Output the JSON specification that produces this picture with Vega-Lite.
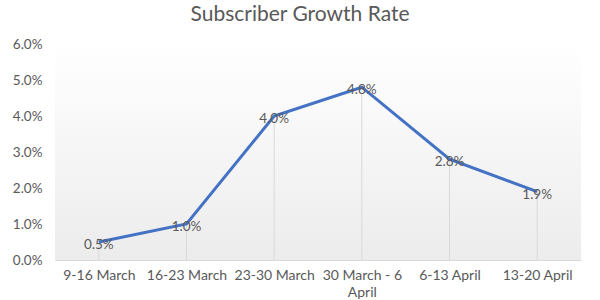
{
  "$schema": "https://vega.github.io/schema/vega-lite/v6.json",
  "width": 526,
  "height": 216,
  "autosize": "none",
  "padding": {"left": 55, "top": 44, "right": 19, "bottom": 40},
  "background": "#ffffff",
  "title": {
    "text": "Subscriber Growth Rate",
    "font": "Lato",
    "fontSize": 21,
    "fontWeight": "normal",
    "color": "#595959",
    "anchor": "middle",
    "offset": 12,
    "dx": -18
  },
  "config": {
    "view": {
      "stroke": null,
      "fill": {"gradient": "linear", "x1": 0, "y1": 0, "x2": 0, "y2": 1, "stops": [{"offset": 0, "color": "#ffffff"}, {"offset": 1, "color": "#ececec"}]}
    },
    "axis": {"labelFont": "Lato", "labelFontSize": 13, "labelColor": "#595959", "grid": false, "ticks": false, "labelOverlap": false}
  },
  "data": {
    "values": [
      {"week": "9-16 March", "rate": 0.005},
      {"week": "16-23 March", "rate": 0.010},
      {"week": "23-30 March", "rate": 0.040},
      {"week": "30 March - 6 April", "rate": 0.048},
      {"week": "6-13 April", "rate": 0.028},
      {"week": "13-20 April", "rate": 0.019}
    ]
  },
  "encoding": {
    "x": {
      "field": "week",
      "type": "nominal",
      "sort": null,
      "title": null,
      "scale": {"type": "point", "padding": 0.5},
      "axis": {
        "labelAngle": 0,
        "labelPadding": 8,
        "labelFontSize": 14,
        "domainColor": "#d9d9d9",
        "labelExpr": "datum.label == '30 March - 6 April' ? ['30 March  - 6', 'April'] : datum.label",
        "labelLineHeight": 17
      }
    },
    "y": {
      "field": "rate",
      "type": "quantitative",
      "title": null,
      "scale": {"domain": [0, 0.06], "nice": false},
      "axis": {"format": ".1%", "values": [0, 0.01, 0.02, 0.03, 0.04, 0.05, 0.06], "tickCount": 7, "domain": false, "labelPadding": 13, "labelOverlap": false, "labelFontSize": 13.5}
    }
  },
  "layer": [
    {
      "mark": {"type": "rule", "color": "#d9d9d9", "strokeWidth": 1},
      "encoding": {
        "y2": {"datum": 0}
      }
    },
    {
      "mark": {"type": "line", "color": "#4472C4", "strokeWidth": 3},
      "encoding": {}
    },
    {
      "mark": {"type": "text", "font": "Lato", "fontSize": 13.5, "color": "#595959", "dy": 3},
      "encoding": {
        "text": {"field": "rate", "type": "quantitative", "format": ".1%"}
      }
    }
  ]
}
